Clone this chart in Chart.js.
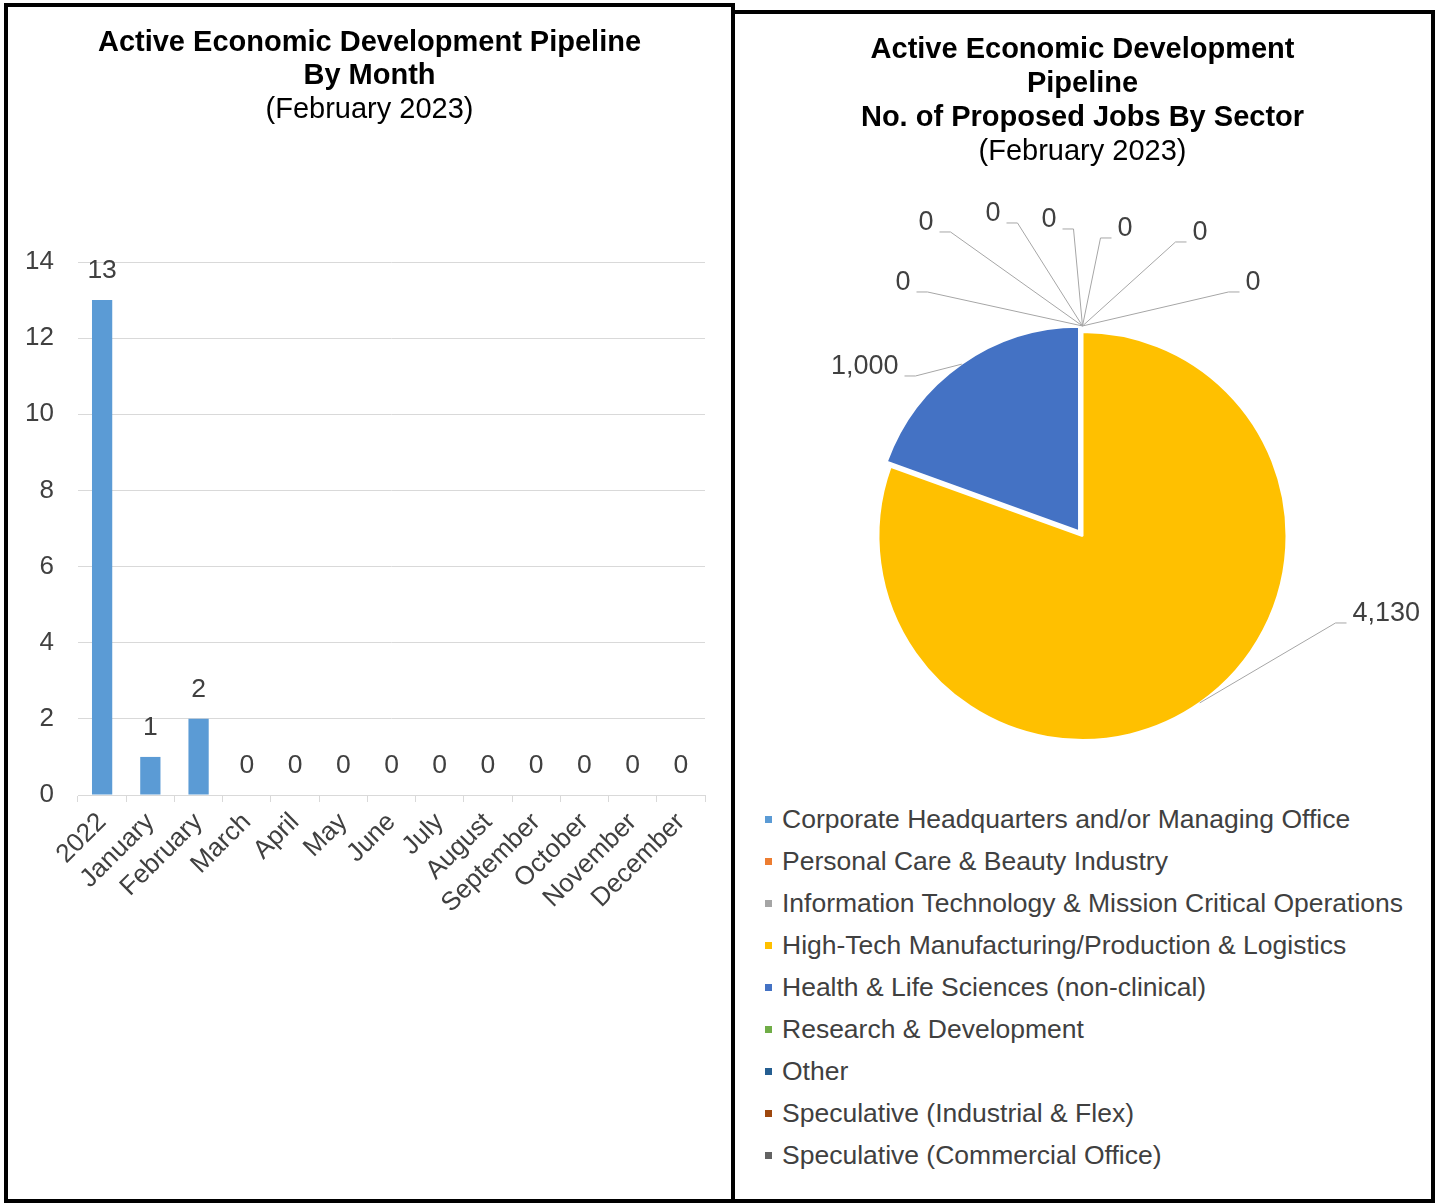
<!DOCTYPE html>
<html>
<head>
<meta charset="utf-8">
<title>Active Economic Development Pipeline</title>
<script src="https://cdn.jsdelivr.net/npm/chart.js@4.4.1/dist/chart.umd.min.js"></script>
<style>
  html, body { margin: 0; padding: 0; background: #fff; width: 1437px; height: 1203px; overflow: hidden;
               font-family: "Liberation Sans", Arial, sans-serif; }
  .panel { position: absolute; box-sizing: border-box; border: 4px solid #000; background: #fff; }
  #leftPanel  { left: 4px;   top: 3px;  width: 731px; height: 1200px; }
  #rightPanel { left: 731px; top: 10px; width: 704px; height: 1193px; }
  .panel canvas { position: absolute; left: 0; top: 0; }
  #sectorLegend { position: absolute; left: 30px; top: 784px; margin: 0; padding: 0; list-style: none;
                  font: 26.5px "Liberation Sans", Arial, sans-serif; color: #404040; }
  #sectorLegend li { height: 42px; line-height: 42px; white-space: nowrap; position: relative; padding-left: 17px; }
  #sectorLegend li span.mark { position: absolute; left: 0; top: 18px; width: 7px; height: 7px; }
</style>
</head>
<body>
<div id="leftPanel" class="panel"><canvas id="monthChart" width="723" height="948"></canvas></div>
<div id="rightPanel" class="panel">
  <canvas id="sectorChart" width="695" height="780"></canvas>
  <ul id="sectorLegend"></ul>
</div>
<script>
// ---- data ----
const monthLabels = ['2022', 'January', 'February', 'March', 'April', 'May', 'June',
                     'July', 'August', 'September', 'October', 'November', 'December'];
const projectCounts = [13, 1, 2, 0, 0, 0, 0, 0, 0, 0, 0, 0, 0];
const countTicks = [0, 2, 4, 6, 8, 10, 12, 14];

const sectorNames = [
  'Corporate Headquarters and/or Managing Office',
  'Personal Care & Beauty Industry',
  'Information Technology & Mission Critical Operations',
  'High-Tech Manufacturing/Production & Logistics',
  'Health & Life Sciences (non-clinical)',
  'Research & Development',
  'Other',
  'Speculative (Industrial & Flex)',
  'Speculative (Commercial Office)'
];
const sectorJobs = [0, 0, 0, 4130, 1000, 0, 0, 0, 0];
const sectorColors = ['#5B9BD5', '#ED7D31', '#A5A5A5', '#FFC000', '#4472C4',
                      '#70AD47', '#255E91', '#9E480E', '#636363'];

const FONT = '"Liberation Sans", Arial, sans-serif';
const TEXT = '#404040';
const GRID = '#d9d9d9';

// centre the title/subtitle boxes on the whole canvas rather than the padded area
const centerHeadings = {
  id: 'centerHeadings',
  afterLayout(chart) {
    chart.boxes.forEach(b => {
      if (b.options && b.options.text !== undefined && b.options.position === 'top') {
        const w = b.right - b.left;
        b.left = (chart.width - w) / 2;
        b.right = b.left + w;
      }
    });
  }
};

// value labels above each bar
const barValueLabels = {
  id: 'barValueLabels',
  afterDatasetsDraw(chart, args, opts) {
    const ctx = chart.ctx;
    const meta = chart.getDatasetMeta(0);
    const values = chart.data.datasets[0].data;
    ctx.save();
    ctx.font = `${opts.size}px ${FONT}`;
    ctx.fillStyle = TEXT;
    ctx.textAlign = 'center';
    ctx.textBaseline = 'middle';
    meta.data.forEach((bar, i) => {
      ctx.fillText(String(values[i]), bar.x, bar.y - opts.gap);
    });
    ctx.restore();
  }
};

// slice labels with leader lines (elbow given relative to the pie centre)
const sliceCallouts = {
  id: 'sliceCallouts',
  afterDatasetsDraw(chart, args, opts) {
    const ctx = chart.ctx;
    const meta = chart.getDatasetMeta(0);
    const values = chart.data.datasets[0].data;
    const offsets = chart.data.datasets[0].offset || [];
    ctx.save();
    ctx.font = `${opts.size}px ${FONT}`;
    ctx.fillStyle = TEXT;
    ctx.strokeStyle = opts.lineColor;
    ctx.lineWidth = 1;
    ctx.textBaseline = 'middle';
    meta.data.forEach((arc, i) => {
      const elbow = opts.elbows[i];
      if (!elbow) return;
      const p = arc.getProps(['x', 'y', 'startAngle', 'endAngle', 'outerRadius']);
      const mid = (p.startAngle + p.endAngle) / 2;
      const r = p.outerRadius + (offsets[i] || 0) / 4 + (values[i] === 0 ? opts.zeroGap : 0);
      const ax = p.x + Math.cos(mid) * r;
      const ay = p.y + Math.sin(mid) * r;
      const ex = p.x + elbow[0];
      const ey = p.y + elbow[1];
      const dir = elbow[0] < 0 ? -1 : 1;
      const tx = ex + dir * opts.segment;
      ctx.beginPath();
      ctx.moveTo(ax, ay);
      ctx.lineTo(ex, ey);
      ctx.lineTo(tx, ey);
      ctx.stroke();
      ctx.textAlign = dir < 0 ? 'right' : 'left';
      ctx.fillText(values[i].toLocaleString('en-US'), tx + dir * opts.textGap, ey - opts.lift);
    });
    ctx.restore();
  }
};

// ---- bar chart: pipeline by month ----
new Chart(document.getElementById('monthChart'), {
  type: 'bar',
  data: {
    labels: monthLabels,
    datasets: [{
      data: projectCounts,
      backgroundColor: '#5B9BD5',
      borderWidth: 0,
      categoryPercentage: 1,
      barPercentage: 0.42
    }]
  },
  options: {
    responsive: false,
    devicePixelRatio: 1,
    animation: false,
    events: [],
    layout: { padding: { left: 0, right: 26, top: 0, bottom: 0 } },
    plugins: {
      legend: { display: false },
      tooltip: { enabled: false },
      title: {
        display: true,
        text: ['Active Economic Development Pipeline', 'By Month'],
        color: '#000',
        font: { family: FONT, size: 29, weight: 'bold', lineHeight: 1.138 },
        padding: { top: 19, bottom: 1.5 }
      },
      subtitle: {
        display: true,
        text: '(February 2023)',
        color: '#000',
        font: { family: FONT, size: 29, weight: 'normal', lineHeight: 1.138 },
        padding: { top: 0, bottom: 135.5 }
      },
      barValueLabels: { size: 26.5, gap: 29 }
    },
    scales: {
      y: {
        min: 0,
        max: 14,
        afterBuildTicks(scale) { scale.ticks = countTicks.map(v => ({ value: v })); },
        afterFit(scale) { scale.width = 70; },
        ticks: { color: TEXT, padding: 24, font: { family: FONT, size: 26 } },
        grid: { color: GRID, lineWidth: 1, drawTicks: false },
        border: { display: false }
      },
      x: {
        afterFit(scale) { scale.height = 160; },
        ticks: { color: TEXT, maxRotation: 45, minRotation: 45, autoSkip: false, padding: 5,
                 font: { family: FONT, size: 26 } },
        grid: { offset: true, drawOnChartArea: false, drawTicks: true, tickLength: 7, color: GRID },
        border: { display: true, color: GRID, width: 1 }
      }
    }
  },
  plugins: [centerHeadings, barValueLabels]
});

// ---- pie chart: proposed jobs by sector ----
new Chart(document.getElementById('sectorChart'), {
  type: 'pie',
  data: {
    labels: sectorNames,
    datasets: [{
      data: sectorJobs,
      backgroundColor: sectorColors,
      borderColor: '#ffffff',
      borderWidth: 2,
      offset: [0, 0, 0, 0, 24, 0, 0, 0, 0],
      radius: 204
    }]
  },
  options: {
    responsive: false,
    devicePixelRatio: 1,
    animation: false,
    events: [],
    layout: { padding: 0 },
    plugins: {
      legend: { display: false },
      tooltip: { enabled: false },
      title: {
        display: true,
        text: ['Active Economic Development', 'Pipeline', 'No. of Proposed Jobs By Sector'],
        color: '#000',
        font: { family: FONT, size: 29, weight: 'bold', lineHeight: 1.172 },
        padding: { top: 19, bottom: 0 }
      },
      subtitle: {
        display: true,
        text: '(February 2023)',
        color: '#000',
        font: { family: FONT, size: 29, weight: 'normal', lineHeight: 1.172 },
        padding: { top: 0, bottom: 109 }
      },
      sliceCallouts: {
        size: 27,
        lineColor: '#a6a6a6',
        segment: 11,
        textGap: 6,
        lift: 9,
        zeroGap: 6,
        elbows: {
          0: [18, -298], 1: [93, -294], 2: [146, -244],
          3: [253, 87], 4: [-167, -160],
          5: [-9, -307], 6: [-65, -313], 7: [-132, -304], 8: [-155, -244]
        }
      }
    }
  },
  plugins: [sliceCallouts]
});

// legend list for the sectors
const legendList = document.getElementById('sectorLegend');
sectorNames.forEach((name, i) => {
  const li = document.createElement('li');
  const mark = document.createElement('span');
  mark.className = 'mark';
  mark.style.background = sectorColors[i];
  li.appendChild(mark);
  li.appendChild(document.createTextNode(name));
  legendList.appendChild(li);
});
</script>
</body>
</html>
